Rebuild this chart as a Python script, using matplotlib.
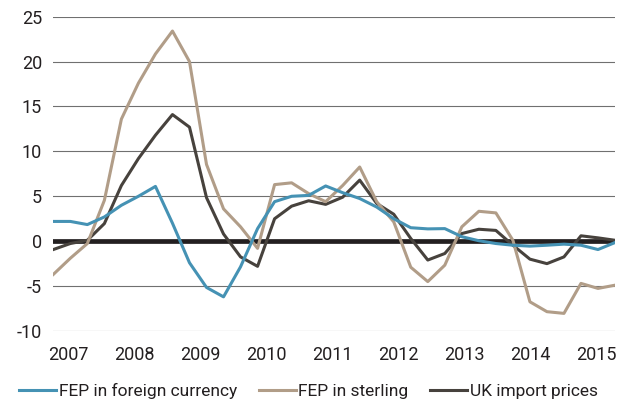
import matplotlib
matplotlib.use("Agg")
import matplotlib.pyplot as plt
import numpy as np

plt.rcParams['font.family'] = ['Roboto', 'DejaVu Sans']
plt.rcParams['axes.unicode_minus'] = False

years = ['2007', '2008', '2009', '2010', '2011', '2012', '2013', '2014', '2015']

fep_foreign = [2.2, 2.2, 1.85, 2.7, 4.0, 5.0, 6.1, 2.0, -2.4, -5.15, -6.2, -2.85,
               1.4, 4.4, 5.0, 5.1, 6.15, 5.4, 4.75, 3.8, 2.5, 1.5, 1.37, 1.4,
               0.5, 0.05, -0.26, -0.45, -0.55, -0.45, -0.33, -0.45, -0.93, -0.15]
fep_sterling = [-3.7, -1.9, -0.26, 4.55, 13.6, 17.6, 20.85, 23.4, 20.0, 8.55, 3.6, 1.6,
                -0.8, 6.3, 6.5, 5.3, 4.4, 6.2, 8.26, 4.4, 2.15, -2.9, -4.5, -2.67,
                1.6, 3.33, 3.15, 0.1, -6.75, -7.85, -8.04, -4.7, -5.26, -4.9]
uk_import = [-0.93, -0.26, 0.1, 1.96, 6.2, 9.2, 11.8, 14.1, 12.7, 4.85, 0.8, -1.75,
             -2.8, 2.5, 3.9, 4.5, 4.1, 4.9, 6.8, 4.2, 3.0, 0.3, -2.1, -1.37,
             0.85, 1.33, 1.2, -0.45, -2.0, -2.5, -1.75, 0.6, 0.37, 0.1]

c_blue = '#4592b4'
c_tan = '#b19d88'
c_dark = '#47423d'
c_text = '#231f20'

fig = plt.figure(figsize=(6.17, 4.01), dpi=100)
ax = fig.add_axes([0.0864, 0.1746, 0.9104, 0.7838])

x = np.arange(len(fep_foreign))

for y in [-10, -5, 5, 10, 15, 20, 25]:
    ax.axhline(y, color='#707070', lw=0.8, zorder=1)
ax.axhline(0, color=c_text, lw=3.4, zorder=2)

l3, = ax.plot(x, uk_import, color=c_dark, lw=2.2, zorder=3, label='UK import prices')
l2, = ax.plot(x, fep_sterling, color=c_tan, lw=2.2, zorder=4, label='FEP in sterling')
l1, = ax.plot(x, fep_foreign, color=c_blue, lw=2.2, zorder=5, label='FEP in foreign currency')

ax.set_xlim(0, len(x) - 1)
ax.set_ylim(-10, 25)
ax.set_yticks([-10, -5, 0, 5, 10, 15, 20, 25])
ax.set_xticks(0.86 + 3.88 * np.arange(len(years)))
ax.set_xticklabels(years)
ax.tick_params(axis='both', length=0, labelsize=13, colors=c_text)
ax.tick_params(axis='y', pad=8)
ax.tick_params(axis='x', pad=11)
for s in ax.spines.values():
    s.set_visible(False)

fig.legend(handles=[l1, l2, l3], loc='center', bbox_to_anchor=(0.5, 0.026), ncol=3,
           frameon=False, fontsize=12.5, handlelength=2.13, handletextpad=0.17,
           columnspacing=1.24, borderpad=0, labelcolor=c_text)

fig.savefig('out.png', dpi=100)
